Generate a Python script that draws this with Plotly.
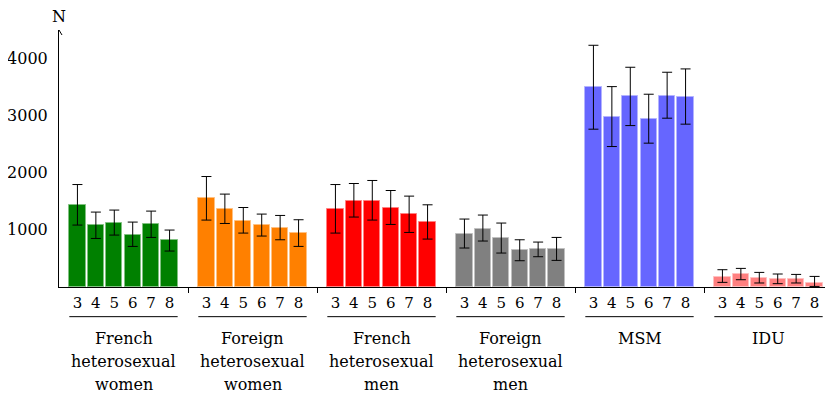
import plotly.graph_objects as go

groups = [["French", "heterosexual", "women"], ["Foreign", "heterosexual", "women"],
          ["French", "heterosexual", "men"], ["Foreign", "heterosexual", "men"],
          ["MSM"], ["IDU"]]
tick_labels = ["3", "4", "5", "6", "7", "8"]
colors = ["#008000", "#ff8000", "#ff0000", "#808080", "#6666ff", "#ff8080"]
edge_colors = ["#80c080", "#ffc080", "#ff8080", "#c0c0c0", "#b3b3ff", "#ffc0c0"]

french_het_women = [1436, 1082, 1122, 913, 1105, 814]
french_het_women_hi = [1790, 1309, 1344, 1134, 1326, 995]
french_het_women_lo = [1082, 848, 907, 709, 866, 628]

foreign_het_women = [1553, 1361, 1157, 1082, 1030, 942]
foreign_het_women_hi = [1930, 1623, 1389, 1274, 1250, 1175]
foreign_het_women_lo = [1169, 1110, 942, 890, 825, 709]

french_het_men = [1361, 1511, 1511, 1379, 1274, 1140]
french_het_men_hi = [1790, 1808, 1861, 1686, 1588, 1436]
french_het_men_lo = [942, 1222, 1169, 1093, 953, 837]

foreign_het_men = [930, 1017, 848, 646, 663, 663]
foreign_het_men_hi = [1187, 1257, 1117, 825, 785, 866]
foreign_het_men_lo = [681, 803, 593, 459, 529, 465]

msm = [3490, 2977, 3333, 2937, 3344, 3326]
msm_hi = [4223, 3501, 3839, 3368, 3752, 3810]
msm_lo = [2757, 2454, 2820, 2513, 2949, 2845]

idu = [180, 220, 162, 145, 145, 70]
idu_hi = [302, 325, 255, 227, 220, 185]
idu_lo = [81, 127, 70, 58, 70, 10]

values = [french_het_women, foreign_het_women, french_het_men, foreign_het_men, msm, idu]
highs = [french_het_women_hi, foreign_het_women_hi, french_het_men_hi, foreign_het_men_hi, msm_hi, idu_hi]
lows = [french_het_women_lo, foreign_het_women_lo, french_het_men_lo, foreign_het_men_lo, msm_lo, idu_lo]

y_tick_vals = [1000, 2000, 3000, 4000]
Y_MAX = 4490
SLOT = 7
FONT = "DejaVu Serif, serif"
PAGE_MARGIN = 8  # default body margin of the html page
LINE_SHIFTS = [-51.5, -74.5, -97.5]  # pixel offsets of label lines below the x axis

fig = go.Figure()
bar_x, bar_text = [], []
for g, (vals, hi, lo) in enumerate(zip(values, highs, lows)):
    xs = [SLOT * g + k + 1 for k in range(len(vals))]
    bar_x += xs
    bar_text += tick_labels
    fig.add_trace(go.Bar(
        x=xs, y=vals, width=0.88,
        marker=dict(color=colors[g], line=dict(color=edge_colors[g], width=1)),
        error_y=dict(type="data", symmetric=False,
                     array=[h - v for h, v in zip(hi, vals)],
                     arrayminus=[v - l for v, l in zip(vals, lo)],
                     color="black", thickness=1, width=5),
        showlegend=False, hoverinfo="skip"))

# invisible trace on second x axis for group-boundary ticks
fig.add_trace(go.Scatter(x=[0], y=[0], xaxis="x2", mode="markers",
                         marker=dict(opacity=0), showlegend=False, hoverinfo="skip"))

fig.update_layout(
    width=833 - PAGE_MARGIN, height=393 - PAGE_MARGIN,
    margin=dict(l=59 - PAGE_MARGIN, r=0, t=30 - PAGE_MARGIN, b=106, autoexpand=False),
    plot_bgcolor="white", paper_bgcolor="white",
    font=dict(family=FONT, size=16, color="black"),
    bargap=0,
    xaxis=dict(range=[0, SLOT * len(groups)], tickmode="array", tickvals=bar_x,
               ticktext=bar_text, ticks="", showline=True, linecolor="black",
               linewidth=1, showgrid=False, zeroline=False, automargin=False,
               tickfont=dict(size=15, family=FONT), ticklabelstandoff=2),
    xaxis2=dict(range=[0, SLOT * len(groups)], overlaying="x", side="bottom",
                tickmode="array", tickvals=[SLOT * g for g in range(1, len(groups))],
                showticklabels=False, ticks="outside", ticklen=5, tickcolor="black",
                tickwidth=1, showgrid=False, zeroline=False, showline=False,
                automargin=False),
    yaxis=dict(range=[0, Y_MAX], tickmode="array", tickvals=y_tick_vals,
               ticks="", showline=True, linecolor="black", linewidth=1,
               showgrid=False, zeroline=False, tickfont=dict(size=16, family=FONT),
               ticklabelstandoff=7, automargin=False),
)

# arrow head on y axis
fig.add_shape(type="path", xref="x", yref="y", xsizemode="pixel", ysizemode="pixel",
              xanchor=0, yanchor=Y_MAX, path="M-3,-5 L0,0 L3,-5",
              line=dict(color="black", width=1))
fig.add_annotation(x=0, y=Y_MAX, xref="x", yref="y", text="N", showarrow=False,
                   yanchor="bottom", yshift=2, font=dict(size=16, family=FONT))

for g, lines in enumerate(groups):
    x0 = SLOT * g + 0.56
    x1 = SLOT * g + 6.44
    fig.add_shape(type="line", xref="x", yref="paper", x0=x0, x1=x1,
                  y0=-0.1154, y1=-0.1154, line=dict(color="black", width=1))
    for i, line in enumerate(lines):
        fig.add_annotation(x=SLOT * g + 3.5, y=0, xref="x", yref="paper",
                           text=line, showarrow=False, yanchor="middle",
                           yshift=LINE_SHIFTS[i], font=dict(size=16, family=FONT))

fig.write_html("out.html")
